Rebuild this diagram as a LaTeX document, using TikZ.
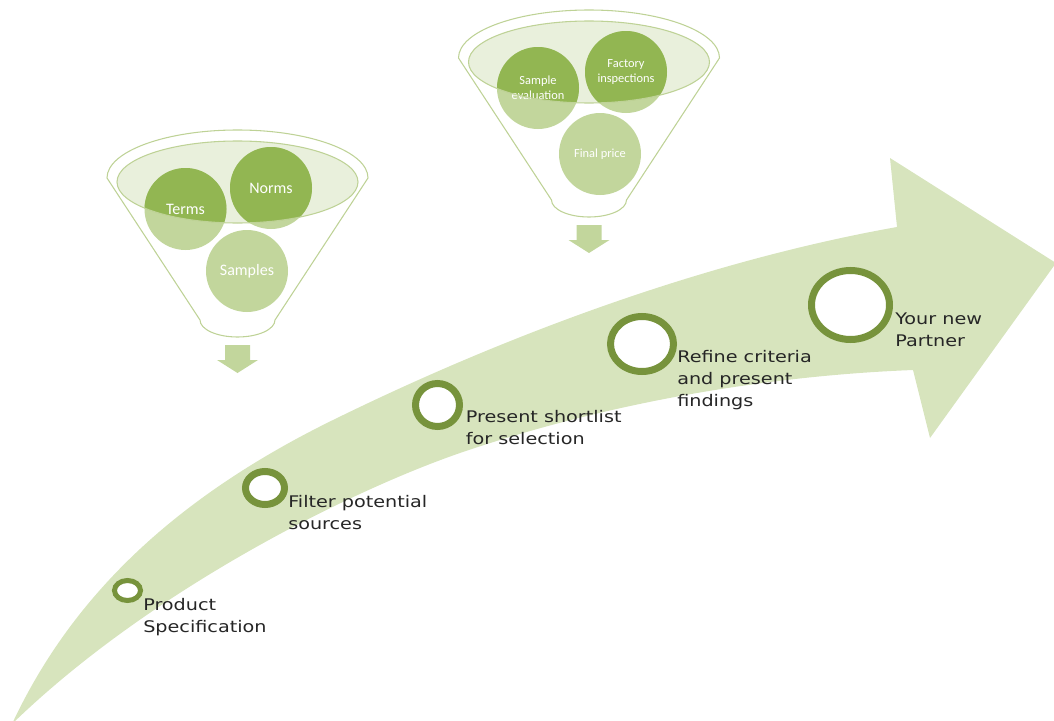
\documentclass[tikz,border=0pt]{standalone}
\usepackage{fontspec}
\setmainfont{DejaVu Sans}
\newfontfamily\stepfont[FakeStretch=1.2]{DejaVu Sans}
\newfontfamily\ballfont{Carlito}
\usepackage{tikz}
\usetikzlibrary{calc,positioning,shapes.geometric}
\definecolor{arrowgreen}{HTML}{D7E4BD}
\definecolor{ringgreen}{HTML}{77933C}
\definecolor{balldark}{RGB}{146,182,82}
\definecolor{balllight}{RGB}{194,214,156}
\definecolor{mouthgreen}{RGB}{233,240,220}
\definecolor{rimgreen}{RGB}{190,210,150}
\tikzstyle{ring}=[ellipse,line width=5.25pt,draw=ringgreen,fill=white,inner sep=0pt]
\tikzstyle{steptext}=[align=left,inner sep=0pt,text=black!85,font=\stepfont\fontsize{12}{16.5}\selectfont]
\tikzstyle{ball}=[circle,minimum size=61.5pt,inner sep=0pt,align=center,text=white]
\tikzstyle{rim}=[draw=rimgreen,line width=0.8pt]
\tikzset{
	bigarrow/.style={fill=arrowgreen},
	downarrow/.style={fill=balllight},
	bigball/.style={ball,font=\ballfont\fontsize{12}{14}\selectfont},
	smallball/.style={ball,font=\ballfont\fontsize{9.3}{11.25}\selectfont}
}
\pgfdeclarelayer{bg}
\pgfdeclarelayer{back}
\pgfsetlayers{bg,back,main}

\begin{document}
\begin{tikzpicture}[x=0.75pt,y=-0.75pt]
    \useasboundingbox (0,0) rectangle (1054,721);
    % the long arrow
\begin{pgfonlayer}{bg}
    \fill[bigarrow] (12,724) .. controls (70,600) and (170,500) .. (333,420)
      .. controls (500,338) and (700,262) .. (897,227)
      -- (890,158) -- (1056,263) -- (930,438) -- (913,370)
      .. controls (760,376) and (600,405) .. (460,453)
      .. controls (350,491) and (150,590) .. (12,724) -- cycle;
\end{pgfonlayer}

    % funnels
    \coordinate (rimA) at (237.5,178);
    \coordinate (rimB) at (589,58);
    \node (terms) [bigball] at ($(rimA)+(-52,31)$) {Terms};
    \node (norms) [bigball] at ($(rimA)+(33.5,10)$) {Norms};
    \node (samples) [bigball] at ($(rimA)+(9.5,93)$) {Samples};
    \node (sampev) [smallball] at ($(rimB)+(-51,30)$) {Sample\\evaluation};
    \node (factory) [smallball] at ($(rimB)+(37,14)$) {Factory\\inspections};
    \node (final) [smallball] at ($(rimB)+(11,96)$) {Final price};
\begin{pgfonlayer}{back}
    \foreach \r in {rimA,rimB}
      \fill[mouthgreen] ($(\r)+(0,4)$) ellipse [x radius=120.5,y radius=41];
    \foreach \b in {terms,norms,samples,sampev,factory,final}
      \fill[balllight] (\b.center) circle [radius=41];
    \begin{scope}
      \clip ($(rimA)+(0,4)$) ellipse [x radius=120.5,y radius=41];
      \foreach \b in {terms,norms,samples}
        \fill[balldark] (\b.center) circle [radius=41];
    \end{scope}
    \begin{scope}
      \clip ($(rimB)+(0,4)$) ellipse [x radius=120.5,y radius=41];
      \foreach \b in {sampev,factory,final}
        \fill[balldark] (\b.center) circle [radius=41];
    \end{scope}
\end{pgfonlayer}
    \foreach \r in {rimA,rimB}{
      \draw[rim] ($(\r)+(-130.5,0)$) arc [start angle=180,end angle=360,x radius=130.5,y radius=48]
        -- ($(\r)+(37.5,142)$) arc [start angle=0,end angle=180,x radius=37.5,y radius=17] -- cycle;
      \draw[rim] ($(\r)+(0,4)$) ellipse [x radius=120.5,y radius=41];
      \fill[downarrow] ($(\r)+(-12.5,167)$) -- ++(25,0) -- ++(0,15) -- ++(8,0) -- ($(\r)+(0,195)$)
        -- ++(-20.5,-13) -- ++(8,0) -- cycle;
    }

    % steps
    \node (r1) [ring,line width=3.75pt,minimum width=19.5pt,minimum height=15pt] at (127.5,590.5) {};
    \node (r2) [ring,minimum width=29.25pt,minimum height=24.75pt] at (265,488) {};
    \node (r3) [ring,minimum width=33pt,minimum height=32.25pt] at (437.5,405) {};
    \node (r4) [ring,minimum width=47.25pt,minimum height=41.25pt] at (642,344) {};
    \node (r5) [ring,minimum width=58.5pt,minimum height=51.75pt] at (850.5,305) {};
    \node (l1) [steptext,below right=5.5pt and 0pt of r1.east] {Product\\Specification};
    \node (l2) [steptext,below right=5pt and 0pt of r2.east] {Filter potential\\sources};
    \node (l3) [steptext,below right=4pt and 2pt of r3.east] {Present shortlist\\for selection};
    \node (l4) [steptext,below right=4.5pt and 0pt of r4.east] {Refine criteria\\and present\\findings};
    \node (l5) [steptext,below right=6pt and 1.5pt of r5.east] {Your new\\Partner};
\end{tikzpicture}
\end{document}
